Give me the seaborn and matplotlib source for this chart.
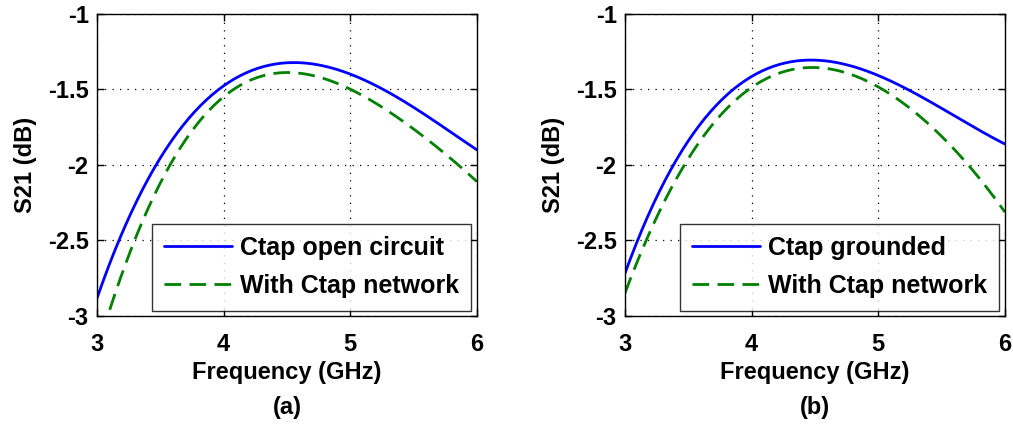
import matplotlib
matplotlib.use("Agg")
import matplotlib.pyplot as plt
import seaborn as sns
import pandas as pd
import numpy as np

# Measured S21 responses, panel (a): Ctap left open
freq_a_open = [3.00, 3.155, 3.47, 3.73, 4.00, 4.26, 4.52, 4.79, 5.00, 5.31, 5.58, 6.00]
s21_a_open = [-2.88, -2.54, -1.99, -1.69, -1.47, -1.37, -1.32, -1.34, -1.40, -1.525, -1.66, -1.90]
freq_a_net = [3.10, 3.34, 3.47, 3.73, 4.00, 4.26, 4.52, 4.79, 5.00, 5.31, 5.58, 5.84, 6.00]
s21_a_net = [-2.95, -2.45, -2.14, -1.78, -1.56, -1.43, -1.39, -1.42, -1.49, -1.66, -1.81, -1.99, -2.11]

# Panel (b): Ctap grounded
freq_b_gnd = [3.00, 3.12, 3.38, 3.64, 3.99, 4.25, 4.49, 4.72, 4.99, 5.35, 5.75, 6.00]
s21_b_gnd = [-2.72, -2.45, -2.01, -1.68, -1.415, -1.33, -1.30, -1.34, -1.40, -1.55, -1.75, -1.86]
freq_b_net = [3.00, 3.25, 3.46, 3.72, 3.99, 4.25, 4.51, 4.72, 4.99, 5.35, 5.62, 5.80, 6.00]
s21_b_net = [-2.85, -2.34, -2.01, -1.72, -1.48, -1.38, -1.36, -1.38, -1.48, -1.70, -1.90, -2.10, -2.31]

x_ticks = [3, 4, 5, 6]
y_ticks = [-3, -2.5, -2, -1.5, -1]
y_tick_labels = ["-3", "-2.5", "-2", "-1.5", "-1"]
panel_tags = ["(a)", "(b)"]
legend_a = ["Ctap open circuit", "With Ctap network"]
legend_b = ["Ctap grounded", "With Ctap network"]

sns.set_theme(style="white")
plt.rcParams["font.family"] = ["Liberation Sans", "DejaVu Sans"]
plt.rcParams["font.weight"] = "bold"
plt.rcParams["text.color"] = "black"
plt.rcParams["axes.labelcolor"] = "black"
plt.rcParams["xtick.color"] = "black"
plt.rcParams["ytick.color"] = "black"

FS_TICK = 17
FS_LABEL = 17
FS_LEG = 18

fig = plt.figure(figsize=(10.13, 4.29), dpi=100)
ax_a = fig.add_axes([0.0958, 0.2634, 0.375, 0.704])
ax_b = fig.add_axes([0.617, 0.2634, 0.375, 0.704])


def smooth_curve(fx, sy, label):
    # fit a smooth polynomial through the sampled points for a clean trace
    coef = np.polyfit(fx, sy, 5)
    f = np.linspace(min(fx), max(fx), 200)
    return pd.DataFrame({"f": f, "s": np.polyval(coef, f), "series": label})


panels = [
    (ax_a, [(freq_a_open, s21_a_open), (freq_a_net, s21_a_net)], legend_a, panel_tags[0]),
    (ax_b, [(freq_b_gnd, s21_b_gnd), (freq_b_net, s21_b_net)], legend_b, panel_tags[1]),
]

for ax, series, labels, tag in panels:
    for (fx, sy), lab, color, ls in zip(series, labels, ["#0000ff", "#008000"],
                                        ["-", (0, (6, 3))]):
        df = smooth_curve(fx, sy, lab)
        sns.lineplot(data=df, x="f", y="s", ax=ax, color=color, linestyle=ls,
                     linewidth=2.0, label=lab)
    ax.set_xlim(3, 6)
    ax.set_ylim(-3, -1)
    ax.set_xticks(x_ticks)
    ax.set_xticklabels([str(t) for t in x_ticks])
    ax.set_yticks(y_ticks)
    ax.set_yticklabels(y_tick_labels)
    ax.grid(True, color="black", linestyle=(0, (1, 5)), linewidth=0.9)
    for sp in ax.spines.values():
        sp.set_visible(True)
        sp.set_color("black")
        sp.set_linewidth(1.0)
    ax.tick_params(axis="both", direction="in", length=5, width=1, labelsize=FS_TICK,
                   top=True, right=True, bottom=True, left=True,
                   colors="black", labelcolor="black")
    ax.tick_params(axis="x", pad=12)
    ax.tick_params(axis="y", pad=6)
    for t in ax.get_xticklabels() + ax.get_yticklabels():
        t.set_fontweight("bold")
    ax.set_xlabel("Frequency (GHz)", fontsize=FS_LABEL, fontweight="bold",
                  labelpad=4, color="black")
    ax.set_ylabel("S21 (dB)", fontsize=FS_LABEL, fontweight="bold",
                  labelpad=8, color="black")
    ax.text(0.5, -0.265, tag, transform=ax.transAxes, ha="center", va="top",
            fontsize=FS_LABEL, fontweight="bold", color="black")
    leg = ax.legend(loc="lower right", fontsize=FS_LEG, frameon=True, fancybox=False,
                    borderaxespad=0.22, handlelength=2.7, borderpad=0.5,
                    labelspacing=0.56, handletextpad=0.32)
    leg.get_frame().set_edgecolor("black")
    leg.get_frame().set_linewidth(1.0)
    for t in leg.get_texts():
        t.set_fontweight("bold")
        t.set_color("black")

fig.savefig("out.png", dpi=100, facecolor="white")
